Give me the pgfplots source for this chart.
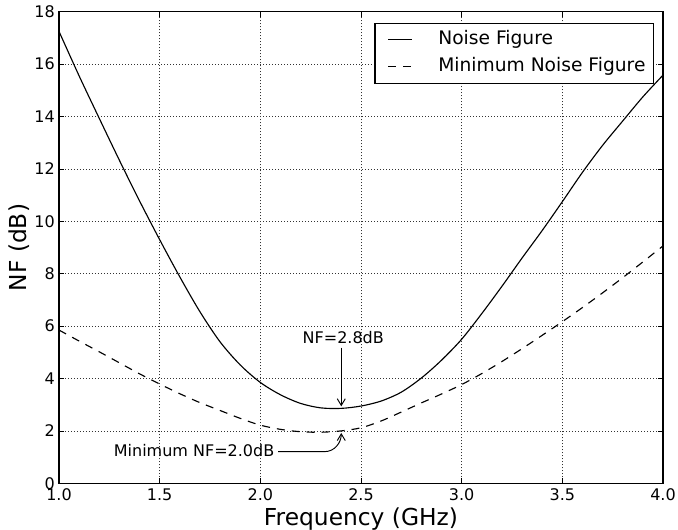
\documentclass[border=0pt]{standalone}
\usepackage{fontspec}
\setmainfont{DejaVu Sans}
\usepackage{pgfplots}
\pgfplotsset{compat=1.18}
\usetikzlibrary{arrows.meta}

\begin{document}
\begin{tikzpicture}
\begin{axis}[
  name=ax,
  scale only axis,
  width=453pt, height=353.7pt,
  xmin=1, xmax=4, ymin=0, ymax=18,
  xtick={1,1.5,2,2.5,3,3.5,4},
  ytick={0,2,4,6,8,10,12,14,16,18},
  /pgf/number format/assume math mode=true,
  xticklabel={\pgfmathprintnumber[fixed,fixed zerofill,precision=1]{\tick}},
  xticklabel style={anchor=base, yshift=-13pt},
  yticklabel style={inner xsep=0pt, anchor=east, xshift=-3pt},
  ticklabel style={font=\fontsize{12}{14}\selectfont},
  every axis x label/.style={at={(axis description cs:0.5,0)}, anchor=base, yshift=-31.3pt},
  every axis y label/.style={at={(axis description cs:-0.0662,0.5)}, rotate=90, anchor=center},
  label style={font=\fontsize{17.5}{20}\selectfont},
  xlabel={Frequency (GHz)},
  ylabel={NF (dB)},
  axis line style={line width=0.9pt},
  tick style={black, line width=0.6pt},
  major tick length=4pt,
  grid=major,
  major grid style={black!80, line width=0.5pt, dash pattern=on 0.75pt off 1.5pt},
  legend style={at={(1,1)}, anchor=north east, xshift=-6.75pt, yshift=-8.25pt,
    draw=black, line width=0.8pt, font=\fontsize{14}{16}\selectfont,
    inner xsep=6pt, inner ysep=5.5pt, row sep=6pt,
    nodes={inner sep=0pt, text height=10.5pt, text depth=3.5pt}},
  legend cell align=left,
  legend image code/.code={%
    \path[draw=none] (-4pt,0pt) -- (37.5pt,0pt);
    \draw[#1] (0pt,0pt) -- (18pt,0pt);},
]
% Noise Figure
\addplot[black, line width=0.85pt, smooth] coordinates {
  (1.00,17.25) (1.10,15.55) (1.20,13.93) (1.30,12.33) (1.40,10.78) (1.50,9.3)
  (1.60,7.88) (1.70,6.55) (1.80,5.4) (1.90,4.52) (2.00,3.85) (2.10,3.38)
  (2.20,3.05) (2.30,2.88) (2.40,2.86) (2.50,2.95) (2.60,3.14) (2.70,3.48)
  (2.80,4.02) (2.90,4.70) (3.00,5.50) (3.10,6.48) (3.20,7.52) (3.30,8.6)
  (3.40,9.65) (3.50,10.75) (3.60,11.87) (3.70,12.9) (3.80,13.83) (3.90,14.75)
  (4.00,15.58)
};
\addlegendentry{Noise Figure}
% Minimum Noise Figure
\addplot[black, line width=0.85pt, smooth, dash pattern=on 6pt off 5.25pt] coordinates {
  (1.00,5.85) (1.10,5.43) (1.20,5.02) (1.30,4.6) (1.40,4.18) (1.50,3.79)
  (1.60,3.42) (1.70,3.08) (1.80,2.78) (1.90,2.48) (2.00,2.22) (2.10,2.06)
  (2.20,1.97) (2.30,1.95) (2.40,2.0) (2.50,2.12) (2.60,2.38) (2.70,2.72)
  (2.80,3.07) (2.90,3.41) (3.00,3.77) (3.10,4.19) (3.20,4.65) (3.30,5.14)
  (3.40,5.65) (3.50,6.17) (3.60,6.71) (3.70,7.27) (3.80,7.85) (3.90,8.45)
  (4.00,9.06)
};
\addlegendentry{Minimum Noise Figure}

\node[font=\fontsize{12}{14}\selectfont] at (axis cs:2.412,5.58) {NF=2.8dB};
\draw[-{Straight Barb[length=5pt,width=6pt]}, line width=0.7pt]
  (axis cs:2.402,5.18) -- (axis cs:2.402,2.94);
\node[font=\fontsize{12}{14}\selectfont] at (axis cs:1.671,1.24) {Minimum NF=2.0dB};
\draw[-{Straight Barb[length=5pt,width=6pt]}, line width=0.7pt]
  (axis cs:2.088,1.21) -- (axis cs:2.32,1.21) to[out=0,in=-90] (axis cs:2.402,1.92);
\end{axis}
\pgfresetboundingbox
\path[use as bounding box] ([xshift=-44.25pt,yshift=-35pt]ax.south west)
  rectangle ([xshift=11.25pt,yshift=8.8pt]ax.north east);
\end{tikzpicture}
\end{document}
